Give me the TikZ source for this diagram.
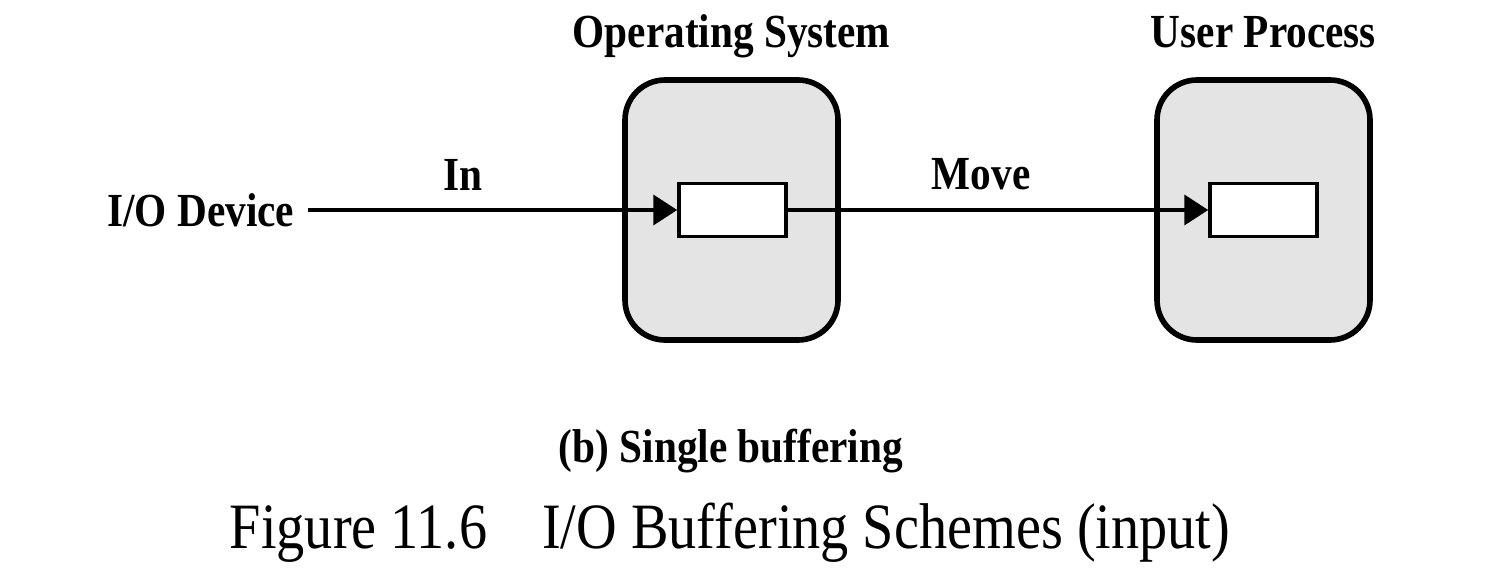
\documentclass[tikz,border=0pt]{standalone}
\usepackage{fontspec}
\setmainfont{Liberation Serif}[FakeStretch=0.87]
\usetikzlibrary{arrows.meta,positioning}

\definecolor{boxgray}{RGB}{228,228,228}

\tikzset{
  proc/.style={draw, line width=1.6pt, rounded corners=0.4cm, fill=boxgray, minimum width=2.13cm, minimum height=2.6cm},
  buf/.style={draw, line width=1pt, fill=white, minimum width=1.07cm, minimum height=0.53cm},
  lbl/.style={font=\fontsize{13.5}{16}\selectfont\bfseries, inner sep=0pt},
  flow/.style={line width=1.1pt, -{Triangle[length=0.24cm,width=0.3cm]}}
}

\begin{document}
\begin{tikzpicture}
  \useasboundingbox (0,0) rectangle (15.04,5.8);
  % the two places that hold a buffer
  \node[proc] (os) at (7.315,3.7) {};
  \node[proc] (user) at (12.635,3.7) {};
  \node[buf] (osbuf) at (7.325,3.7) {};
  \node[buf] (userbuf) at (12.635,3.7) {};
  \node[lbl, above=0.3cm of os, anchor=base] (ostitle) {Operating System};
  \node[lbl, above=0.3cm of user, anchor=base] (usertitle) {User Process};
  % data path
  \node[lbl, anchor=east] (dev) at (2.95,3.7) {I/O Device};
  \coordinate[right=0.13cm of dev.east] (devout);
  \draw[flow] (devout) -- node[lbl, above=0.18cm, pos=0.42] (in) {In} (osbuf.west);
  \draw[flow] (osbuf.east) -- node[lbl, above=0.18cm, pos=0.46] (move) {Move} (userbuf.west);
  % captions
  \node[lbl, anchor=base] (sub) at (7.31,1.18) {(b) Single buffering};
  \node[font=\fontsize{18.4}{22}\selectfont, anchor=base] (cap) at (7.30,0.32) {Figure 11.6\hspace{0.55cm}I/O Buffering Schemes (input)};
\end{tikzpicture}
\end{document}
